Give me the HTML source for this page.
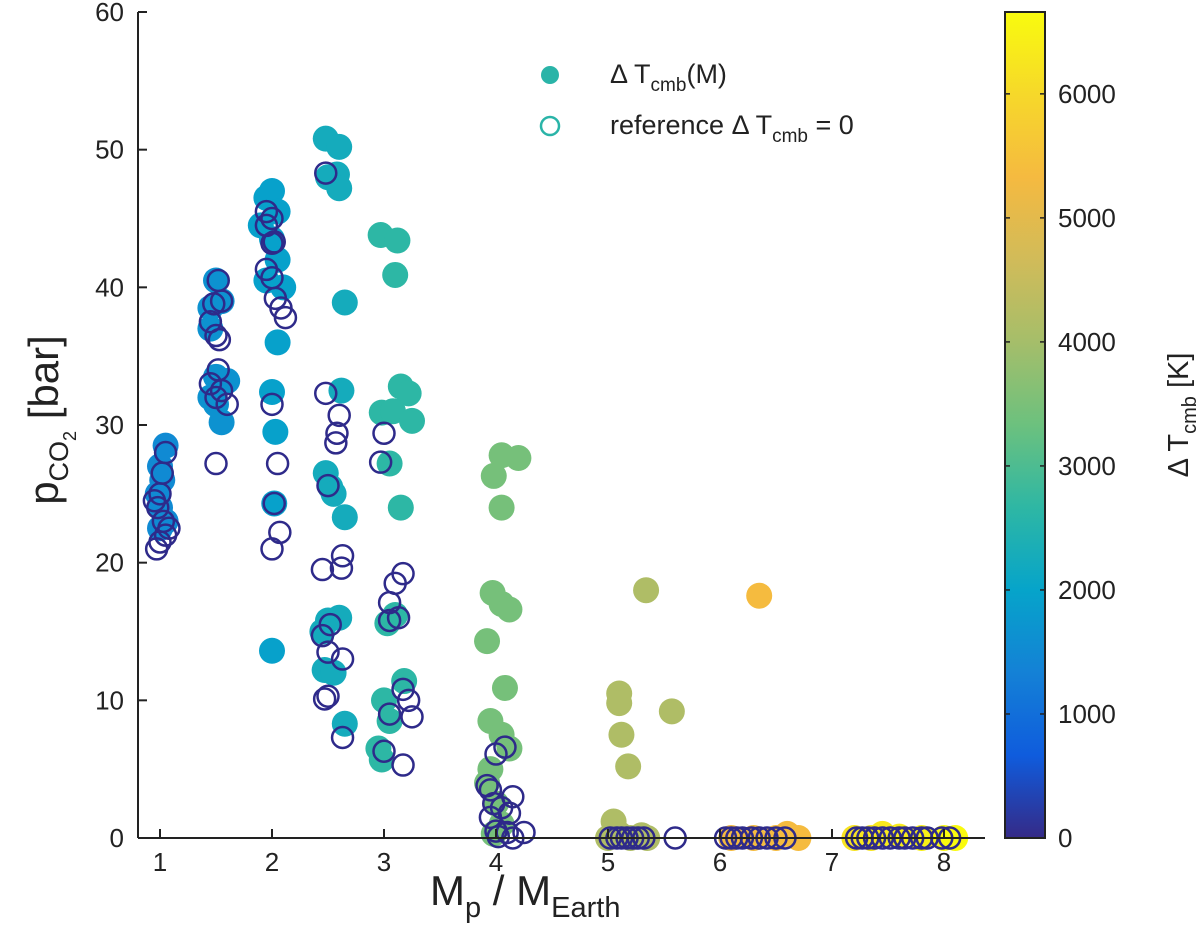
<!DOCTYPE html>
<html><head><meta charset="utf-8"><style>
html,body{margin:0;padding:0;background:#fff;}
svg{display:block;font-family:"Liberation Sans",sans-serif;}
</style></head><body>
<svg id="chart" width="1200" height="950" viewBox="0 0 1200 950">
<defs>
<linearGradient id="cbgrad" x1="0" y1="1" x2="0" y2="0">
<stop offset="0" stop-color="#352a87"/><stop offset="0.1" stop-color="#0f5cdd"/>
<stop offset="0.2" stop-color="#1481d6"/><stop offset="0.3" stop-color="#06a4ca"/>
<stop offset="0.4" stop-color="#2eb7a4"/><stop offset="0.5" stop-color="#6cc17e"/>
<stop offset="0.6" stop-color="#a5be6a"/><stop offset="0.7" stop-color="#d1bb59"/>
<stop offset="0.8" stop-color="#f5ba40"/><stop offset="0.9" stop-color="#f6d82a"/>
<stop offset="1" stop-color="#f9fb0e"/></linearGradient>
</defs>
<g id="marks"></g>
<g id="axes"></g>
</svg>
<script>
const filledM=[1.0,1.02,1.05,0.98,1.0,1.05,1.0,
1.45,1.5,1.55,1.45,1.5,1.55,1.6,1.5,1.55,1.45,
1.95,2.0,2.05,1.9,2.0,2.05,1.95,2.1,2.05,2.0,2.03,2.02,2.0,
2.48,2.6,2.58,2.5,2.6,2.65,2.62,2.48,2.52,2.55,2.65,2.5,2.6,2.45,2.47,2.55,2.65,
2.97,3.12,3.1,3.15,3.22,2.98,3.08,3.25,3.05,3.15,3.1,3.03,3.18,3.0,3.05,2.95,2.98,
4.05,4.2,3.98,4.05,3.97,4.05,4.12,3.92,4.08,3.95,4.05,4.12,3.95,3.92,4.0,4.05,3.98,
5.1,5.1,5.12,5.18,5.34,5.57,5.05,5.1,5.3,5.0,5.2,5.35,
6.35,6.1,6.3,6.5,6.7,6.6,
7.2,7.35,7.45,7.6,7.8,8.0,8.1];
const filledP=[24,26,28.5,25,22.5,23,27,
38.5,40.5,39,37,33.5,33,33.2,31.5,30.2,32,
46.5,47,45.5,44.5,43.5,42,40.5,40,36,32.4,29.5,24.3,13.6,
50.8,50.2,48.2,48,47.2,38.9,32.5,26.5,25.5,25,23.3,15.8,16,15,12.2,12,8.3,
43.8,43.4,40.9,32.8,32.3,30.9,31,30.3,27.2,24,16.2,15.6,11.4,10,8.5,6.5,5.7,
27.8,27.6,26.3,24,17.8,17,16.6,14.3,10.9,8.5,7.5,6.5,5,4,2.5,1,0.3,
10.5,9.8,7.5,5.2,18,9.2,1.2,0.3,0.2,0,0,0,
17.6,0,0,0,0,0.3,
0,0,0.3,0.1,0,0,0];
const filledDT=[1500,1500,1500,1500,1500,1500,1500,
1650,1650,1650,1650,1650,1650,1650,1650,1650,1650,
1950,1950,1950,1950,1950,1950,1950,1950,1950,1950,1950,1950,1950,
2250,2250,2250,2250,2250,2250,2250,2250,2250,2250,2250,2250,2250,2250,2250,2250,2250,
2650,2650,2650,2650,2650,2650,2650,2650,2650,2650,2650,2650,2650,2650,2650,2650,2650,
3450,3450,3450,3450,3450,3450,3450,3450,3450,3450,3450,3450,3450,3450,3450,3450,3450,
4150,4150,4150,4150,4150,4150,4150,4150,4150,4150,4150,4150,
5350,5350,5350,5350,5350,5350,
6200,6250,6300,6350,6450,6600,6650];
const openM=[0.97,1.0,1.05,1.03,0.95,1.0,1.02,1.05,0.98,1.08,
1.45,1.48,1.5,1.52,1.55,1.53,1.45,1.5,1.55,1.6,1.5,1.52,
1.95,2.0,1.95,2.02,2.0,1.95,2.0,2.03,2.08,2.12,2.0,2.05,2.02,2.0,2.07,
2.48,2.48,2.6,2.58,2.57,2.5,2.45,2.63,2.62,2.52,2.45,2.5,2.63,2.5,2.47,2.63,
2.97,3.0,3.17,3.1,3.05,3.13,3.05,3.17,3.22,3.05,3.25,3.0,3.17,
4.0,4.08,3.92,3.95,4.15,3.98,4.05,4.12,3.95,4.0,4.1,4.25,4.02,4.15,
5.02,5.08,5.12,5.17,5.22,5.27,5.32,5.6,
6.05,6.1,6.15,6.2,6.28,6.35,6.42,6.5,6.58,
7.22,7.27,7.32,7.38,7.45,7.52,7.6,7.65,7.72,7.8,7.85,7.98,8.05];
const openP=[21,21.5,22,23,24.5,25,26.5,28,24,22.5,
37.5,38.8,36.5,40.5,39,36.2,33,32,32.5,31.5,27.2,34,
45.5,45,44.5,43.3,43.2,41.3,40.7,39.2,38.5,37.8,31.5,27.2,24.3,21,22.2,
48.3,32.3,30.7,29.4,28.7,25.6,19.5,20.5,19.6,15.5,14.7,13.5,13,10.3,10.1,7.3,
27.3,29.4,19.2,18.5,17.1,16,15.8,10.8,10,9,8.8,6.3,5.3,
6.1,6.6,3.8,3.5,3.0,2.5,2.2,1.8,1.5,0.5,0.4,0.4,0.1,0,
0,0,0,0,0,0,0,0,
0,0,0,0,0,0,0,0,0,
0,0,0,0,0,0,0,0,0,0,0,0,0];
const xTicks=[1,2,3,4,5,6,7,8];
const yTicks=[0,10,20,30,40,50,60];
const cTicks=[0,1000,2000,3000,4000,5000,6000];

const NS='http://www.w3.org/2000/svg';
const X0=138,X1=985,YT=12,YB=838;
const xs=v=>160+(v-1)*112;
const ys=v=>YB-v*(YB-YT)/60;
const CMAX=6660;
const cs=v=>YB-v*(YB-YT)/CMAX;
const stops=[[0,[53,42,135]],[0.1,[15,92,221]],[0.2,[20,129,214]],[0.3,[6,164,202]],[0.4,[46,183,164]],[0.5,[108,193,126]],[0.6,[165,190,106]],[0.7,[209,187,89]],[0.8,[245,186,64]],[0.9,[246,216,42]],[1,[249,251,14]]];
function cmap(v){const t=Math.max(0,Math.min(1,v/CMAX));for(let i=1;i<stops.length;i++){if(t<=stops[i][0]){const a=stops[i-1],b=stops[i];const f=(t-a[0])/(b[0]-a[0]);return 'rgb('+a[1].map((c,k)=>Math.round(c+(b[1][k]-c)*f)).join(',')+')';}}return 'rgb(249,251,14)';}
function mk(tag,attrs,parent){const e=document.createElementNS(NS,tag);for(const k in attrs)e.setAttribute(k,attrs[k]);parent.appendChild(e);return e;}
const marks=document.getElementById('marks'),axes=document.getElementById('axes');
for(let i=0;i<filledM.length;i++){
 const c=mk('circle',{cx:xs(filledM[i]),cy:ys(filledP[i]),r:13,fill:cmap(filledDT[i])},marks);
 
 
}
for(let i=0;i<openM.length;i++){
 const c=mk('circle',{cx:xs(openM[i]),cy:ys(openP[i]),r:10.5,fill:'none',stroke:'#2e2a8a','stroke-width':2.5},marks);
 
 
}
mk('line',{x1:X0,y1:YT,x2:X0,y2:YB,stroke:'#222','stroke-width':2},axes);
mk('line',{x1:X0,y1:YB,x2:X1,y2:YB,stroke:'#222','stroke-width':2},axes);
for(const t of xTicks){
 mk('line',{x1:xs(t),y1:YB,x2:xs(t),y2:YB-9,stroke:'#222','stroke-width':2},axes);
 const tx=mk('text',{x:xs(t),y:YB+33,'text-anchor':'middle','font-size':26,fill:'#222'},axes);tx.textContent=t;
 
 
}
for(const t of yTicks){
 mk('line',{x1:X0,y1:ys(t),x2:X0+9,y2:ys(t),stroke:'#222','stroke-width':2},axes);
 const tx=mk('text',{x:X0-14,y:ys(t)+9,'text-anchor':'end','font-size':26,fill:'#222'},axes);tx.textContent=t;
 
 
}
const cb=mk('rect',{x:1005,y:YT,width:40,height:YB-YT,fill:'url(#cbgrad)',stroke:'#222','stroke-width':2},axes);


for(const t of cTicks){
 mk('line',{x1:1005,y1:cs(t),x2:1010,y2:cs(t),stroke:'#222','stroke-width':1.5},axes);
 mk('line',{x1:1040,y1:cs(t),x2:1045,y2:cs(t),stroke:'#222','stroke-width':1.5},axes);
 const tx=mk('text',{x:1058,y:cs(t)+9,'font-size':26,fill:'#222'},axes);tx.textContent=t;
 
 
}
</script>
<svg style="position:absolute;left:0;top:0" width="1200" height="950">
<text transform="translate(58,420) rotate(-90)" text-anchor="middle" font-family="Liberation Sans" font-size="42" fill="#222">p<tspan font-size="27" dy="10">CO</tspan><tspan font-size="18" dy="8">2</tspan><tspan dy="-18"> [bar]</tspan></text>
<text x="430" y="905" font-family="Liberation Sans" font-size="42" fill="#222">M<tspan font-size="29" dy="12">p</tspan><tspan dy="-12"> / M</tspan><tspan font-size="29" dy="12">Earth</tspan></text>
<text transform="translate(1188,415) rotate(-90)" text-anchor="middle" font-family="Liberation Sans" font-size="29" fill="#222">Δ T<tspan font-size="20" dy="8">cmb</tspan><tspan dy="-8"> [K]</tspan></text>
<g>
<circle cx="550" cy="75" r="9" fill="#2ab4a8"/>
<text x="610" y="83" font-family="Liberation Sans" font-size="27" fill="#222">Δ T<tspan font-size="19" dy="8">cmb</tspan><tspan dy="-8">(M)</tspan></text>
<circle cx="550" cy="126" r="9" fill="none" stroke="#2ab4a8" stroke-width="2.5"/>
<text x="610" y="134" font-family="Liberation Sans" font-size="27" fill="#222">reference Δ T<tspan font-size="19" dy="8">cmb</tspan><tspan dy="-8"> = 0</tspan></text>
</g>
</svg>
</body></html>
